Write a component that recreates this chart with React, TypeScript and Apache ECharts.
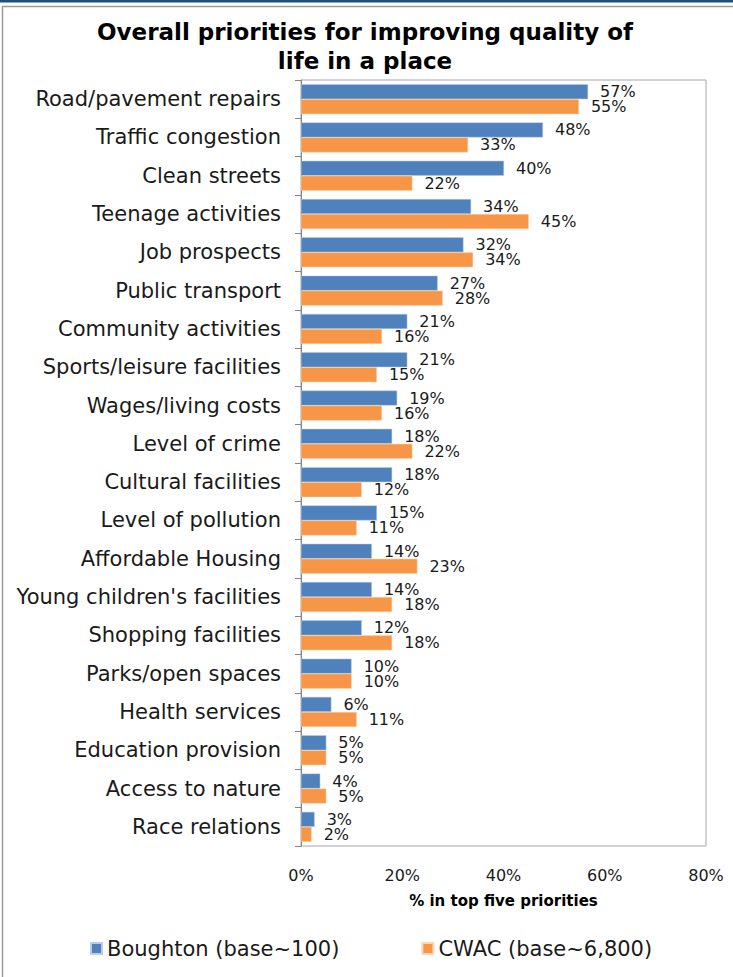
import React, { useEffect, useRef } from "react";
import * as echarts from "echarts";

const categories = [
  "Road/pavement repairs",
  "Traffic congestion",
  "Clean streets",
  "Teenage activities",
  "Job prospects",
  "Public transport",
  "Community activities",
  "Sports/leisure facilities",
  "Wages/living costs",
  "Level of crime",
  "Cultural facilities",
  "Level of pollution",
  "Affordable Housing",
  "Young children's facilities",
  "Shopping facilities",
  "Parks/open spaces",
  "Health services",
  "Education provision",
  "Access to nature",
  "Race relations",
];

const boughton = [56.7, 47.8, 40.1, 33.6, 32.1, 27, 21, 21, 19, 18, 18, 15, 14, 14, 12, 10, 6, 5, 3.8, 2.7];
const cwac = [54.9, 33, 22, 45, 34, 28, 16, 15, 16, 22, 12, 11, 23, 18, 18, 10, 11, 5, 5, 2.1];

const xTicks = [0, 20, 40, 60, 80];
const seriesNames = ["Boughton (base~100)", "CWAC (base~6,800)"];
const titleText = "Overall priorities for improving quality of\nlife in a place";
const xAxisName = "% in top five priorities";

const FONT = "DejaVu Sans, Verdana, sans-serif";

export default function App() {
  const ref = useRef<HTMLDivElement>(null);
  useEffect(() => {
    if (!ref.current) return;
    const chart = echarts.init(ref.current, null, { renderer: "svg" });
    const labelStyle = {
      show: true,
      position: "right" as const,
      distance: 12,
      fontFamily: FONT,
      fontSize: 16,
      color: "#1a1a1a",
      formatter: (p: any) => Math.round(p.value) + "%",
    };
    chart.setOption({
      animation: false,
      backgroundColor: "#ffffff",
      textStyle: { fontFamily: FONT },
      title: {
        text: titleText,
        left: 360,
        textAlign: "center",
        top: 12,
        textStyle: {
          fontFamily: FONT,
          fontWeight: "bold",
          fontSize: 23,
          lineHeight: 29,
          color: "#000",
        },
      },
      legend: {
        data: seriesNames,
        left: 90,
        top: 938,
        padding: 0,
        icon: "rect",
        itemWidth: 11,
        itemHeight: 11,
        itemGap: 82,
        textStyle: { fontFamily: FONT, fontSize: 21, color: "#1a1a1a" },
      },
      grid: {
        left: 301,
        right: 27,
        top: 80,
        bottom: 131,
        show: true,
        borderColor: "#a6a6a6",
        borderWidth: 1,
      },
      xAxis: {
        type: "value",
        min: xTicks[0],
        max: xTicks[xTicks.length - 1],
        interval: 20,
        name: xAxisName,
        nameLocation: "middle",
        nameGap: 47,
        nameTextStyle: { fontFamily: FONT, fontWeight: "bold", fontSize: 15, color: "#000" },
        axisLine: { show: false },
        axisTick: { show: false },
        splitLine: { show: false },
        axisLabel: {
          margin: 21,
          fontFamily: FONT,
          fontSize: 16,
          color: "#1a1a1a",
          formatter: (v: number) => v + "%",
        },
      },
      yAxis: {
        type: "category",
        data: categories,
        inverse: true,
        axisLine: { show: true, lineStyle: { color: "#868686" } },
        axisTick: { show: true, length: 6, lineStyle: { color: "#868686" } },
        axisLabel: { margin: 20, fontFamily: FONT, fontSize: 21, color: "#1a1a1a" },
      },
      series: [
        {
          name: seriesNames[0],
          type: "bar",
          data: boughton,
          barWidth: 15,
          barGap: "0%",
          itemStyle: { color: "#4f81bd", borderColor: "#b9cde5", borderWidth: 0.5 },
          label: labelStyle,
        },
        {
          name: seriesNames[1],
          type: "bar",
          data: cwac,
          barWidth: 15,
          barGap: "0%",
          itemStyle: { color: "#f79646", borderColor: "#fcd5b5", borderWidth: 0.5 },
          label: labelStyle,
        },
      ],
      graphic: [
        {
          type: "rect",
          shape: { x: 0, y: 0, width: 733, height: 2.5 },
          style: { fill: "#1f4e79" },
          silent: true,
        },
        {
          type: "rect",
          shape: { x: 2.5, y: 6.5, width: 740, height: 980 },
          style: { fill: "none", stroke: "#9a9a9a", lineWidth: 1.5 },
          silent: true,
        },
      ],
    });
    return () => chart.dispose();
  }, []);
  return (
    <div
      ref={ref}
      style={{ position: "fixed", left: 0, top: 0, width: 733, height: 977 }}
    />
  );
}
